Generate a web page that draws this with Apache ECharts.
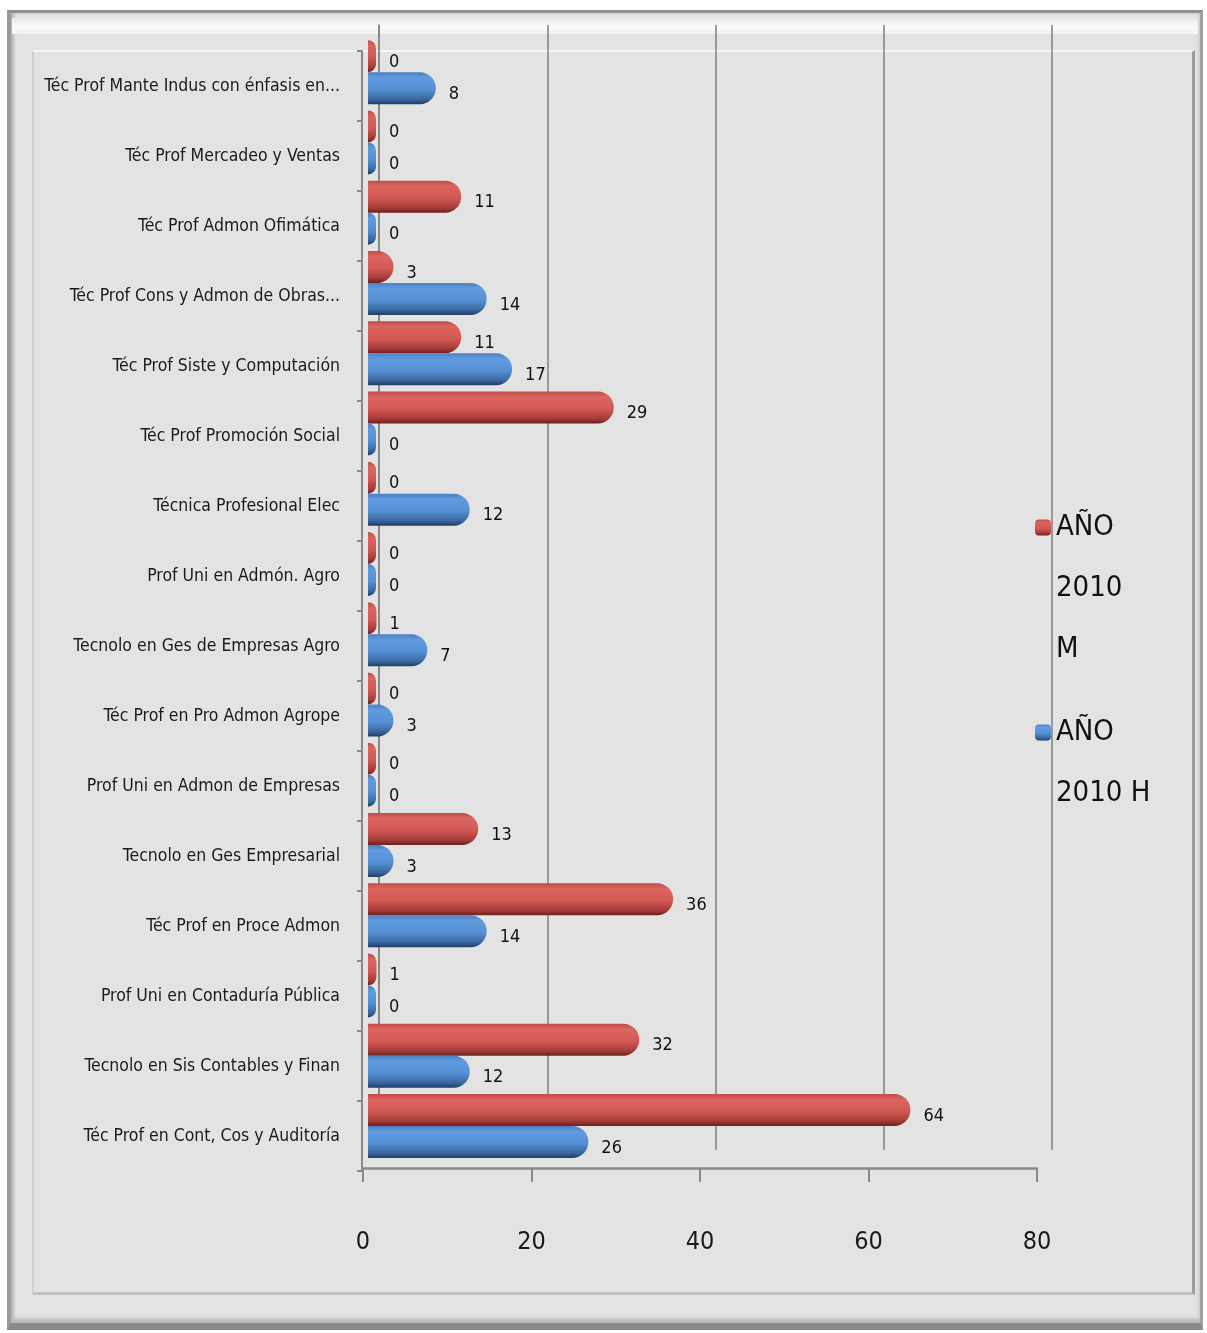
<!DOCTYPE html>
<html>
<head>
<meta charset="utf-8">
<script src="https://cdn.jsdelivr.net/npm/echarts@6/dist/echarts.min.js"></script>
<style>
  html, body { margin: 0; padding: 0; background: #ffffff; }
  #frame { position: absolute; left: 7px; top: 10px; width: 1196px; height: 1320px; box-sizing: border-box;
    background: #e3e3e3; border-top: 3px solid #8f8f8f; border-left: 4px solid #9a9a9a; border-right: 3px solid #a0a0a0; border-bottom: 7px solid #8a8a8a;
    box-shadow: inset 3px 0 3px #b9b9b9, inset 0 -4px 4px #b5b5b5; }
  #bevelTop { position: absolute; left: 12px; top: 18px; width: 1186px; height: 16px; background: linear-gradient(#e9e9e9, #fbfbfb 55%, #f2f2f2); }
  #panel { position: absolute; left: 32px; top: 50px; width: 1163px; height: 1245px; box-sizing: border-box;
    background: #e3e3e3; border-top: 2px solid #f7f7f7; border-left: 2px solid #d0d0d0; border-right: 3px solid #9c9c9c; border-bottom: 3px solid #c2c2c2; }
  #chart { position: absolute; left: 0; top: 0; width: 1207px; height: 1333px; }
</style>
</head>
<body>
<div id="frame"></div>
<div id="bevelTop"></div>
<div id="panel"></div>
<div id="chart"></div>
<script>
// Categories, top to bottom as in the picture
const categories = [
  'Téc Prof Mante Indus con énfasis en...',
  'Téc Prof Mercadeo y Ventas',
  'Téc Prof Admon Ofimática',
  'Téc Prof Cons y Admon de Obras...',
  'Téc Prof Siste y Computación',
  'Téc Prof Promoción Social',
  'Técnica Profesional Elec',
  'Prof Uni en Admón. Agro',
  'Tecnolo en Ges de Empresas Agro',
  'Téc Prof en Pro Admon Agrope',
  'Prof Uni en Admon de Empresas',
  'Tecnolo en Ges Empresarial',
  'Téc Prof en Proce Admon',
  'Prof Uni en Contaduría Pública',
  'Tecnolo en Sis Contables y Finan',
  'Téc Prof en Cont, Cos y Auditoría'
];
const seriesNames = ['AÑO 2010 M', 'AÑO 2010 H'];
const legendLabels = ['AÑO\n2010\nM', 'AÑO\n2010 H'];
const valuesM = [0, 0, 11, 3, 11, 29, 0, 0, 1, 0, 0, 13, 36, 1, 32, 64];
const valuesH = [8, 0, 0, 14, 17, 0, 12, 0, 7, 3, 0, 3, 14, 0, 12, 26];
const xTicks = { min: 0, max: 80, interval: 20 };

const FONT = "'Liberation Sans Narrow', 'DejaVu Sans Condensed', 'Roboto Condensed', sans-serif";

const redGrad = new echarts.graphic.LinearGradient(0, 0, 0, 1, [
  { offset: 0, color: '#bf4b48' }, { offset: 0.18, color: '#dc6560' },
  { offset: 0.55, color: '#d35854' }, { offset: 0.85, color: '#a53c39' }, { offset: 1, color: '#6c2120' }
]);
const blueGrad = new echarts.graphic.LinearGradient(0, 0, 0, 1, [
  { offset: 0, color: '#4a80c4' }, { offset: 0.18, color: '#619ade' },
  { offset: 0.55, color: '#5590d4' }, { offset: 0.85, color: '#3a679e' }, { offset: 1, color: '#1e3e66' }
]);

const labelStyle = { show: true, position: 'right', distance: 13, offset: [0, 6], fontSize: 18, fontFamily: FONT, color: '#111' };

// legend text is vertically centred on the icon; leading blank lines put the first line beside the icon
function padLegend(txt) {
  const n = txt.split('\n').length;
  return ' \n'.repeat(n - 1) + txt;
}

const chart = echarts.init(document.getElementById('chart'), null, { renderer: 'canvas' });
chart.setOption({
  backgroundColor: 'transparent',
  animation: false,
  textStyle: { fontFamily: FONT },
  grid: [
    { left: 368, right: 161, top: 37, bottom: 172 },   // bars
    { left: 379, right: 155, top: 25, bottom: 183 },   // back wall
    { left: 363, right: 170, top: 1100, bottom: 165 }, // front x axis
    { left: 362, right: 160, top: 51, bottom: 162 }    // category labels
  ],
  xAxis: [
    { gridIndex: 0, type: 'value', min: xTicks.min, max: xTicks.max, interval: xTicks.interval, show: false },
    { gridIndex: 1, type: 'value', min: xTicks.min, max: xTicks.max, interval: xTicks.interval,
      axisLine: { show: false }, axisTick: { show: false }, axisLabel: { show: false },
      splitLine: { show: true, lineStyle: { color: '#808080', width: 1.5 } } },
    { gridIndex: 2, type: 'value', min: xTicks.min, max: xTicks.max, interval: xTicks.interval,
      axisLine: { show: true, lineStyle: { color: '#8a8a8a', width: 2.5 } },
      axisTick: { show: true, length: 14, lineStyle: { color: '#8a8a8a', width: 2 } },
      axisLabel: { show: true, fontSize: 25, fontFamily: FONT, color: '#1a1a1a', margin: 62 },
      splitLine: { show: false } },
    { gridIndex: 3, type: 'value', min: xTicks.min, max: xTicks.max, show: false }
  ],
  yAxis: [
    { gridIndex: 0, type: 'category', data: categories, inverse: true, show: false },
    { gridIndex: 1, type: 'value', min: 0, max: 1, axisLine: { show: true, lineStyle: { color: '#808080', width: 1.5 } },
      axisTick: { show: false }, axisLabel: { show: false }, splitLine: { show: false } },
    { gridIndex: 2, type: 'value', show: false },
    { gridIndex: 3, type: 'category', data: categories, inverse: true,
      axisLine: { show: true, lineStyle: { color: '#8a8a8a', width: 2 } },
      axisTick: { show: true, length: 5, lineStyle: { color: '#8a8a8a', width: 2 } },
      axisLabel: { show: true, fontSize: 17.5, fontFamily: FONT, color: '#1a1a1a', margin: 22 } }
  ],
  legend: [
    { data: [seriesNames[0]], orient: 'vertical', left: 1035, top: 375, padding: 0, itemWidth: 16, itemHeight: 16,
      formatter: () => padLegend(legendLabels[0]),
      textStyle: { fontSize: 29, lineHeight: 61, fontFamily: FONT, color: '#111' } },
    { data: [seriesNames[1]], orient: 'vertical', left: 1035, top: 641, padding: 0, itemWidth: 16, itemHeight: 16,
      formatter: () => padLegend(legendLabels[1]),
      textStyle: { fontSize: 29, lineHeight: 61, fontFamily: FONT, color: '#111' } }
  ],
  series: [
    { name: seriesNames[0], type: 'bar', xAxisIndex: 0, yAxisIndex: 0, data: valuesM,
      barWidth: 32, barGap: '0%', barMinHeight: 8,
      itemStyle: { color: redGrad, borderRadius: [0, 16, 16, 0] }, label: labelStyle },
    { name: seriesNames[1], type: 'bar', xAxisIndex: 0, yAxisIndex: 0, data: valuesH,
      barWidth: 32, barGap: '0%', barMinHeight: 8,
      itemStyle: { color: blueGrad, borderRadius: [0, 16, 16, 0] }, label: labelStyle }
  ]
});
</script>
</body>
</html>
